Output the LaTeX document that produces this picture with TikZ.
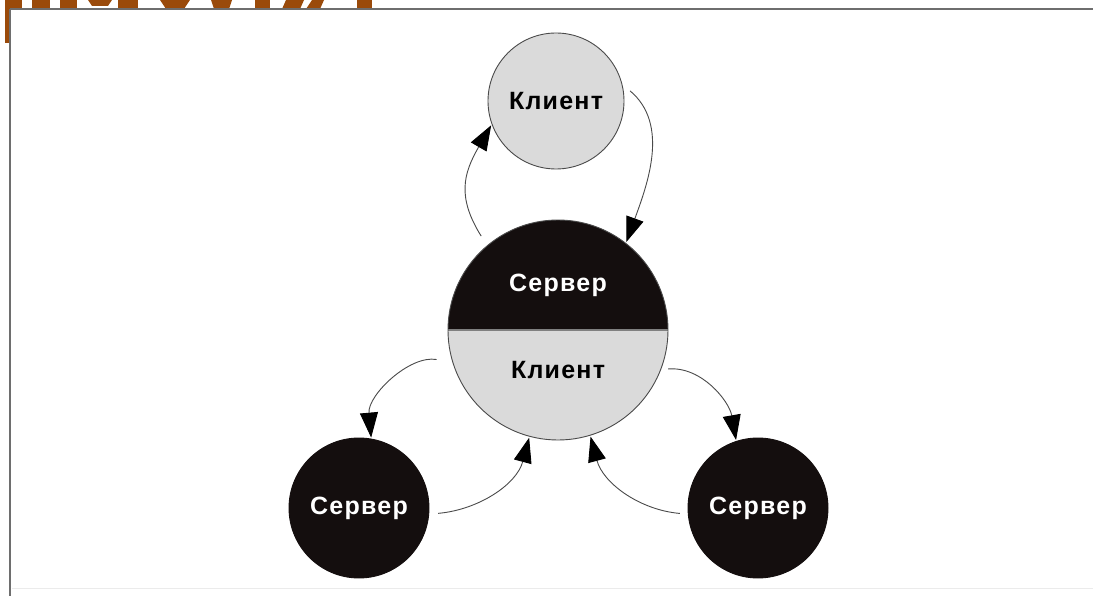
\documentclass[tikz,border=0pt]{standalone}
\usepackage{fontspec}
\setmainfont{Liberation Sans}
\usetikzlibrary{arrows.meta}
\definecolor{brownt}{HTML}{9A4A0A}
\definecolor{lgray}{HTML}{DADADA}
\definecolor{dblack}{HTML}{140E0E}
\definecolor{framec}{HTML}{6E6E6E}
\definecolor{linec}{HTML}{4A4A4A}
\newfontfamily\lblfont[LetterSpace=5]{Liberation Sans Bold}
\tikzset{
  client/.style={circle, draw=linec, line width=0.9pt, fill=lgray, minimum size=136pt, inner sep=0pt},
  server/.style={circle, draw=dblack, line width=0.9pt, fill=dblack, minimum size=140pt, inner sep=0pt},
  mixed/.style={circle, draw=linec, line width=0.9pt, fill=lgray, minimum size=220pt, inner sep=0pt,
     path picture={\fill[dblack] (path picture bounding box.north west) rectangle ([yshift=1pt]path picture bounding box.east);
                   \draw[gray, line width=1.5pt] (path picture bounding box.west) -- (path picture bounding box.east);}},
  dtext/.style={text=black, font=\lblfont\fontsize{25}{28}\selectfont},
  wtext/.style={text=white, font=\lblfont\fontsize{25}{28}\selectfont},
  conn/.style={draw=linec, line width=0.9pt, -{Triangle[length=25pt,width=18pt,color=black]}, shorten >=1pt},
  brownfrag/.style={fill=brownt}
}
\begin{document}
\begin{tikzpicture}[x=1pt,y=1pt]
\useasboundingbox (0,0) rectangle (1093,-596);
\fill[white] (0,0) rectangle (1093,-596);
% cut-off title fragments
\fill[brownfrag] (5,0) rectangle (10,-43);
\fill[brownfrag] (5,0) rectangle (22,-9);
\fill[brownfrag] (32,0) rectangle (50,-9);
\fill[brownfrag] (60,0) rectangle (77,-9);
\fill[brownfrag] (88,0) -- (112,0) -- (108,-6) -- (92,-6) -- cycle;
\fill[brownfrag] (118,0) rectangle (138,-9);
\fill[brownfrag] (160,0) -- (190,0) -- (184,-9) -- (166,-9) -- cycle;
\fill[brownfrag] (211,0) -- (232,0) -- (229,-9) -- (214,-9) -- cycle;
\fill[brownfrag] (255,0) rectangle (270,-9);
\fill[brownfrag] (286,0) -- (304,0) -- (300,-9) -- (282,-9) -- cycle;
\fill[brownfrag] (312,0) -- (324,0) -- (320,-9) -- (306,-9) -- cycle;
\fill[brownfrag] (357,0) rectangle (372,-9);
% frame
\draw[framec, line width=2pt] (10,-9) -- (1093,-9);
\draw[framec, line width=2pt] (10,-9) -- (10,-596);
\draw[black!8, line width=1pt] (12,-588) -- (1093,-588);
% nodes
\node[client] (top) at (556,-101) {};
\node[dtext] (topl) at (top) {Клиент};
\node[mixed] (c) at (558,-330) {};
\node[wtext] (cs) at (558,-285) {Сервер};
\node[dtext] (ck) at (558,-370) {Клиент};
\node[server] (bl) at (359,-508) {};
\node[wtext] (bll) at (bl) {Сервер};
\node[server] (br) at (758,-508) {};
\node[wtext] (brl) at (br) {Сервер};
% connectors
\draw[conn, shorten <=11pt] (c.130) to[out=122, in=240, looseness=1.2] (top.200);
\draw[conn, shorten <=10pt] (top.14) to[out=-40, in=70] (c.52);
\draw[conn, shorten <=16pt] (c.197) to[out=170, in=95] (bl.80);
\draw[conn, shorten <=9pt] (bl.-5) to[out=5, in=-105] (c.255);
\draw[conn, shorten <=8pt] (br.185) to[out=175, in=-75] (c.287);
\draw[conn, shorten <=7pt] (c.-21) to[out=5, in=100] (br.108);
\end{tikzpicture}
\end{document}
